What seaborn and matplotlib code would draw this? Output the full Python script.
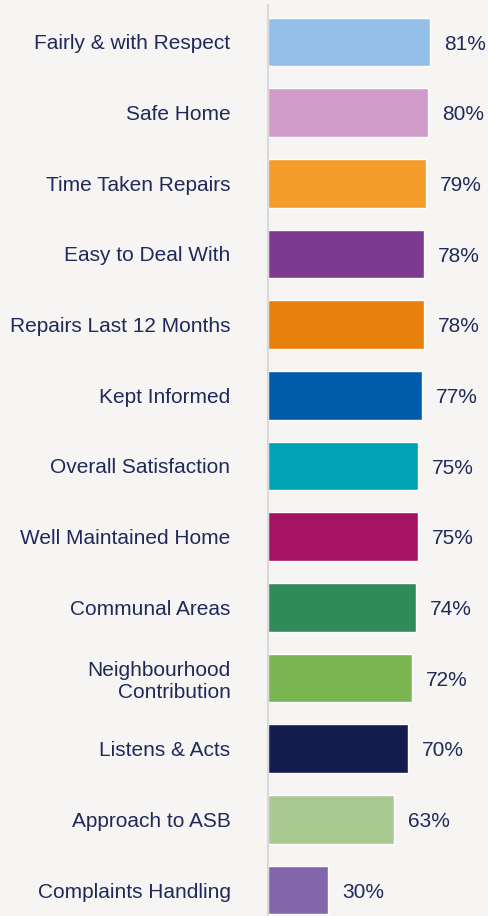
import numpy as np
import pandas as pd

import matplotlib.pyplot as plt
import seaborn as sns

categories = [
    "Fairly & with Respect",
    "Safe Home",
    "Time Taken Repairs",
    "Easy to Deal With",
    "Repairs Last 12 Months",
    "Kept Informed",
    "Overall Satisfaction",
    "Well Maintained Home",
    "Communal Areas",
    "Neighbourhood\nContribution",
    "Listens & Acts",
    "Approach to ASB",
    "Complaints Handling",
]
values = [81, 80, 79, 78, 78, 77, 75, 75, 74, 72, 70, 63, 30]
colors = [
    "#93BFE8", "#D09BC8", "#F39C2C", "#7E3A8E", "#E8800E", "#005BAA",
    "#00A3B5", "#A51462", "#2F8C58", "#7AB552", "#141B4D", "#A8C98F", "#8166AB",
]

bg = "#F7F5F3"
text_color = "#1F2A5A"

sns.set_style("white")
plt.rcParams['font.family'] = ['Liberation Sans', 'DejaVu Sans']

df = pd.DataFrame({"category": categories, "value": values})

fig = plt.figure(figsize=(4.89, 9.16), dpi=100, facecolor=bg)
ax = fig.add_axes([268 / 489, 0.0, 200 / 489, 911 / 916])
ax.set_facecolor(bg)

sns.barplot(data=df, y="category", x="value", hue="category", palette=colors,
            orient="h", width=0.69, legend=False, ax=ax, saturation=1)

ax.set_xlim(0, 100)
pitch = 70.67
ax.set_ylim(12 + (916 - 890) / pitch, -(42 - 5) / pitch)

for i, v in enumerate(values):
    ax.annotate(f"{v}%", xy=(v, i), xytext=(10, -1.5), textcoords="offset points",
                va="center", ha="left", fontsize=15, color=text_color)

ax.set_xlabel("")
ax.set_ylabel("")
ax.set_xticks([])
ax.tick_params(axis="y", length=0, pad=27, labelsize=15, labelcolor=text_color)
for lab in ax.get_yticklabels():
    lab.set_horizontalalignment("right")
    lab.set_multialignment("right")

for s in ["top", "right", "bottom"]:
    ax.spines[s].set_visible(False)
ax.spines["left"].set_color("#D9D9D9")
ax.spines["left"].set_linewidth(1.5)

fig.savefig("out.png", dpi=100, facecolor=bg)
